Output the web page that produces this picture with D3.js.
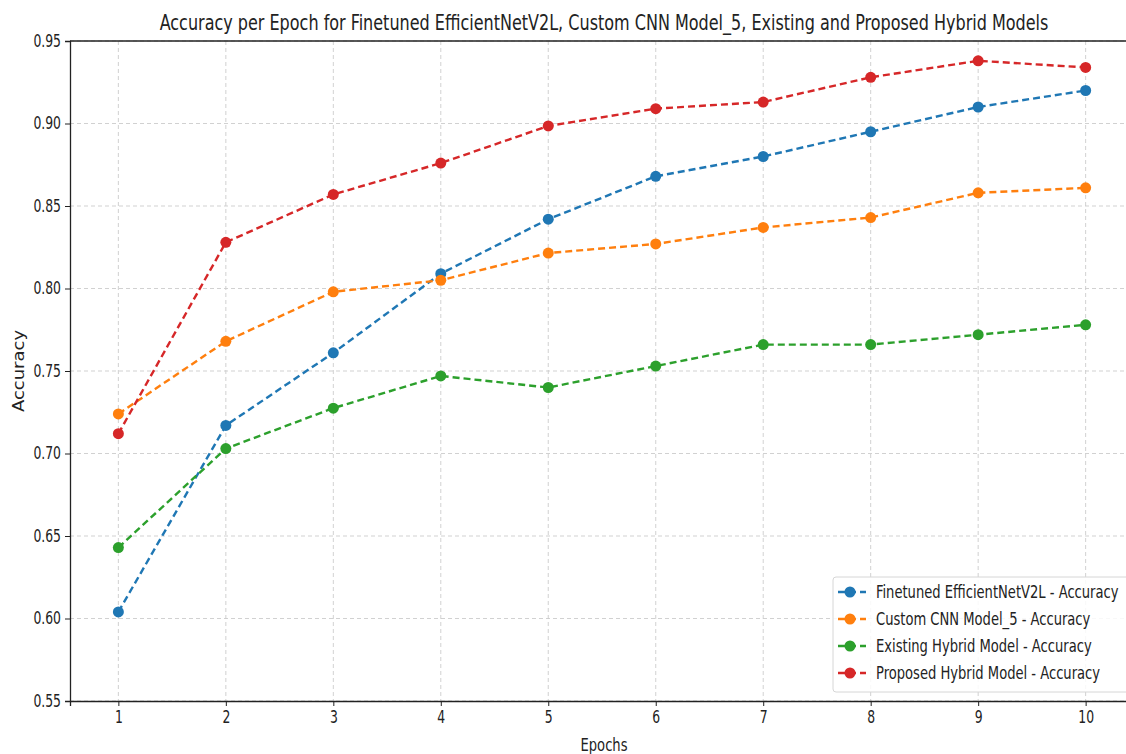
<!DOCTYPE html>
<html>
<head>
<meta charset="utf-8">
<script src="https://cdn.jsdelivr.net/npm/d3@7"></script>
<style>
  body { margin: 0; background: #fff; }
  svg { display: block; font-family: "DejaVu Sans Condensed", "DejaVu Sans", sans-serif; font-stretch: condensed; }
</style>
</head>
<body>
<svg width="1126" height="754"></svg>
<script>
// values
const epochs = [1, 2, 3, 4, 5, 6, 7, 8, 9, 10];
const effNet   = [0.604, 0.717, 0.761, 0.809, 0.842, 0.868, 0.880, 0.895, 0.910, 0.920];
const customCnn = [0.724, 0.768, 0.798, 0.805, 0.8215, 0.827, 0.837, 0.843, 0.858, 0.861];
const existing = [0.643, 0.703, 0.7275, 0.747, 0.740, 0.753, 0.766, 0.766, 0.772, 0.778];
const proposed = [0.712, 0.828, 0.857, 0.876, 0.8985, 0.909, 0.913, 0.928, 0.938, 0.934];
const seriesNames = [
    "Finetuned EfficientNetV2L - Accuracy",
    "Custom CNN Model_5 - Accuracy",
    "Existing Hybrid Model - Accuracy",
    "Proposed Hybrid Model - Accuracy"
];
const yTicks = [0.55, 0.60, 0.65, 0.70, 0.75, 0.80, 0.85, 0.90, 0.95];

const series = [effNet, customCnn, existing, proposed].map((vals, i) => ({
    name: seriesNames[i],
    values: vals.map((v, j) => ({ epoch: epochs[j], acc: v }))
}));

var color = d3.scaleOrdinal()
    .domain(seriesNames)
    .range(["#1f77b4", "#ff7f0e", "#2ca02c", "#d62728"]);

// the reference text is tall and narrow, so every label gets squeezed sideways
const squeeze = 0.81;

let margin = {top: 41, left: 70, bottom: 53},
    plotWidth = 1134 - margin.left,
    plotHeight = 754 - margin.top - margin.bottom;

const svg = d3.select("svg");
const g = svg.append("g")
    .attr("transform", `translate(${margin.left}, ${margin.top})`);

const x = d3.scaleLinear()
    .domain([0.55, 10.45])
    .range([0, plotWidth]);

const y = d3.scaleLinear()
    .domain([0.55, 0.95])
    .range([plotHeight, 0]);

// grid
g.append("g")
    .selectAll("line")
    .data(yTicks)
    .enter().append("line")
    .attr("x1", 0).attr("x2", plotWidth)
    .attr("y1", d => y(d)).attr("y2", d => y(d))
    .attr("stroke", "#cccccc").attr("stroke-width", 0.9)
    .attr("stroke-dasharray", "4,3");

g.append("g")
    .selectAll("line")
    .data(epochs)
    .enter().append("line")
    .attr("x1", d => x(d)).attr("x2", d => x(d))
    .attr("y1", 0).attr("y2", plotHeight)
    .attr("stroke", "#cccccc").attr("stroke-width", 0.9)
    .attr("stroke-dasharray", "4,3");

// axes
const xAxisCall = d3.axisBottom(x).tickValues(epochs).tickSize(5).tickPadding(5).tickFormat(d3.format("d"));
const xAxis = g.append("g")
    .attr("transform", `translate(0, ${plotHeight})`)
    .call(xAxisCall);

const yAxisCall = d3.axisLeft(y).tickValues(yTicks).tickSize(5).tickPadding(4).tickFormat(d3.format(".2f"));
const yAxis = g.append("g").call(yAxisCall);

[xAxis, yAxis].forEach(a => {
    a.select(".domain").attr("stroke", "#222").attr("stroke-width", 1.3);
    a.selectAll(".tick line").attr("stroke", "#222").attr("stroke-width", 1);
    a.selectAll(".tick text").attr("font-size", "17px").attr("fill", "#222")
        .attr("font-family", "DejaVu Sans Condensed, DejaVu Sans, sans-serif")
        .attr("transform", `scale(${squeeze},1)`);
});
yAxis.selectAll(".tick text").attr("x", -9 / squeeze);

// top spine
g.append("line")
    .attr("x1", 0).attr("x2", plotWidth)
    .attr("y1", 0).attr("y2", 0)
    .attr("stroke", "#222").attr("stroke-width", 1.3);

// lines
const line = d3.line()
    .x(d => x(d.epoch))
    .y(d => y(d.acc));

series.forEach(s => {
    g.append("path")
        .datum(s.values)
        .attr("d", line)
        .attr("fill", "none")
        .attr("stroke", color(s.name))
        .attr("stroke-width", 2.4)
        .attr("stroke-dasharray", "7,4");

    g.selectAll(null)
        .data(s.values)
        .enter().append("circle")
        .attr("cx", d => x(d.epoch))
        .attr("cy", d => y(d.acc))
        .attr("r", 5.5)
        .attr("fill", color(s.name));
});

// labels
svg.append("text")
    .attr("transform", `translate(604, 30) scale(${squeeze},1)`)
    .attr("font-size", "22px")
    .attr("text-anchor", "middle")
    .attr("fill", "#222")
    .text("Accuracy per Epoch for Finetuned EfficientNetV2L, Custom CNN Model_5, Existing and Proposed Hybrid Models");

svg.append("text")
    .attr("transform", `translate(604, 751) scale(${squeeze},1)`)
    .attr("font-size", "18px")
    .attr("text-anchor", "middle")
    .attr("fill", "#222")
    .text("Epochs");

svg.append("text")
    .attr("transform", `translate(24, 371) rotate(-90) scale(1,${squeeze})`)
    .attr("font-size", "20px")
    .attr("text-anchor", "middle")
    .attr("fill", "#222")
    .text("Accuracy");

// legend
const legend = svg.append("g").attr("transform", "translate(833, 577)");
legend.append("rect")
    .attr("x", 0).attr("y", 0)
    .attr("width", 300).attr("height", 115)
    .attr("rx", 3)
    .attr("fill", "#fff").attr("fill-opacity", 0.85)
    .attr("stroke", "#d6d6d6");

const entries = legend.selectAll("g.entry")
    .data(seriesNames)
    .enter().append("g")
    .attr("class", "entry")
    .attr("transform", (d, i) => `translate(0, ${15 + i * 27})`);

entries.append("line")
    .attr("x1", 5).attr("x2", 33)
    .attr("stroke", d => color(d))
    .attr("stroke-width", 2.4)
    .attr("stroke-dasharray", "7,4");

entries.append("circle")
    .attr("cx", 17).attr("r", 5.5)
    .attr("fill", d => color(d));

entries.append("text")
    .attr("transform", `translate(43, 6) scale(${squeeze},1)`)
    .attr("font-size", "18px")
    .attr("fill", "#222")
    .text(d => d);
</script>
</body>
</html>
